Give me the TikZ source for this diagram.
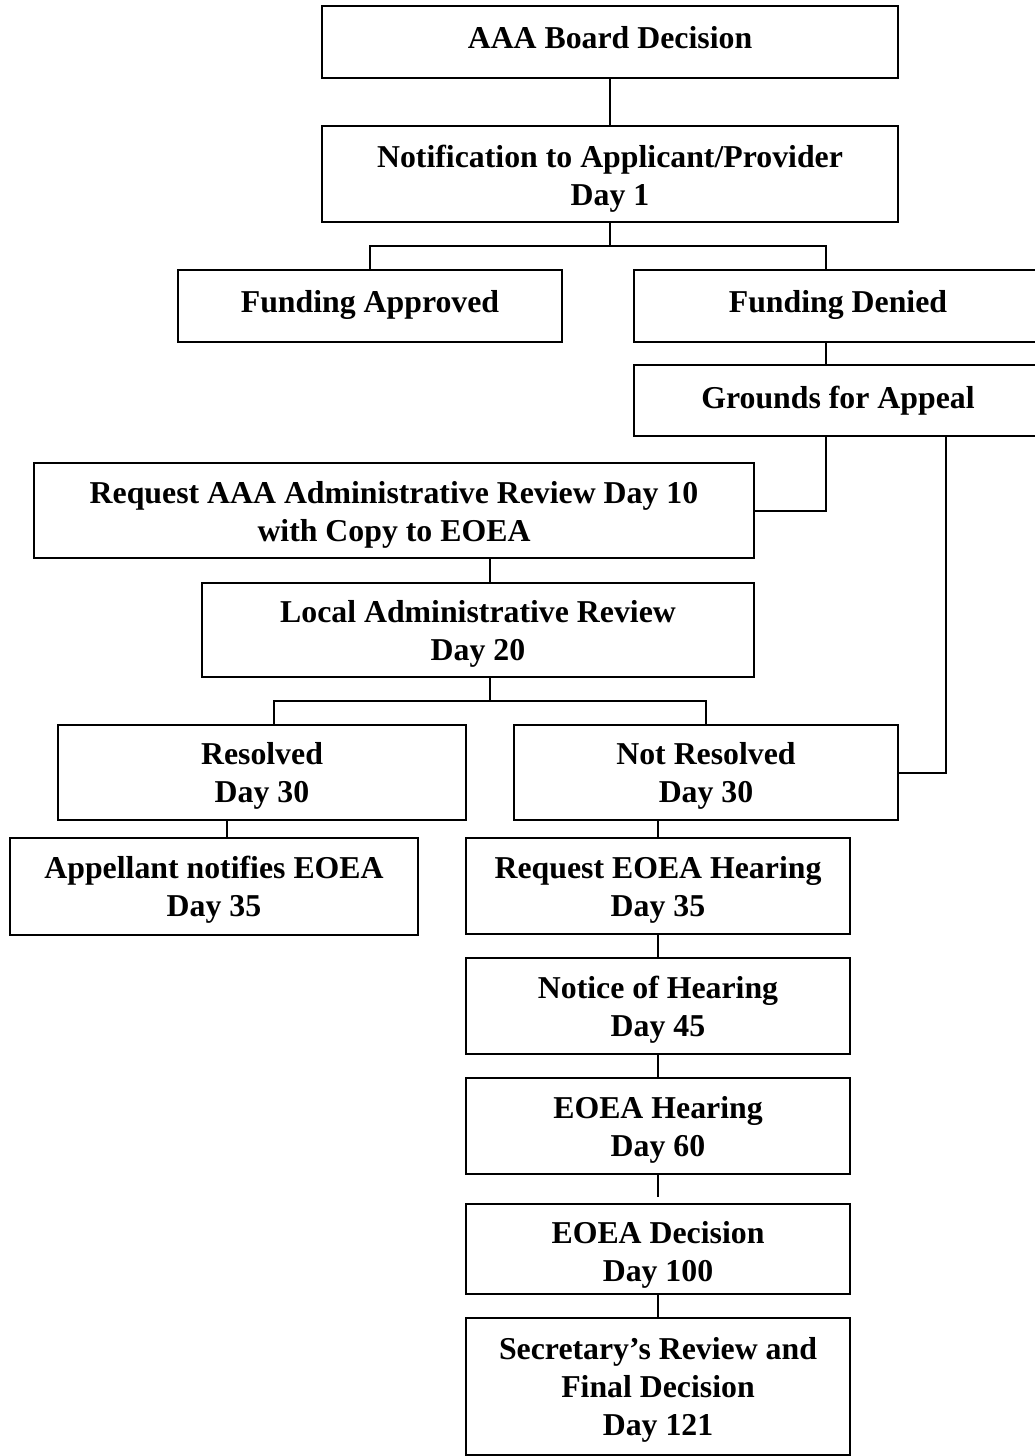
\documentclass[tikz,border=0pt]{standalone}
\usepackage{fontspec}
\setmainfont{Liberation Serif}
\newcommand\lowerby[1]{\rule{0pt}{#1}}
\newcommand\raiseby[1]{\rule[-#1]{0pt}{1pt}}
\begin{document}
\begin{tikzpicture}[x=1pt,y=-1pt,
  box/.style={draw, line width=2pt, inner sep=0pt, align=center,
    font=\fontsize{31.8}{38}\selectfont\bfseries},
  conn/.style={line width=2pt}]
\useasboundingbox (0,0) rectangle (1035,1456);
\node[box, minimum width=576pt, minimum height=72pt] (a) at (610,42) {AAA Board Decision\raiseby{10pt}};
\node[box, minimum width=576pt, minimum height=96pt] (b) at (610,174) {\lowerby{31pt}Notification to Applicant/Provider\\Day 1};
\node[box, minimum width=384pt, minimum height=72pt] (c) at (370,306) {Funding Approved\raiseby{10pt}};
\node[box, minimum width=408pt, minimum height=72pt] (d) at (838,306) {Funding Denied\raiseby{10pt}};
\node[box, minimum width=408pt, minimum height=71pt] (e) at (838,400.5) {Grounds for Appeal};
\node[box, minimum width=720pt, minimum height=95pt] (f) at (394,510.5) {\lowerby{30pt}Request AAA Administrative Review Day 10\\with Copy to EOEA};
\node[box, minimum width=552pt, minimum height=94pt] (g) at (478,630) {\lowerby{29pt}Local Administrative Review\\Day 20};
\node[box, minimum width=408pt, minimum height=95pt] (h) at (262,772.5) {\lowerby{29pt}Resolved\\Day 30};
\node[box, minimum width=384pt, minimum height=95pt] (i) at (706,772.5) {\lowerby{29pt}Not Resolved\\Day 30};
\node[box, minimum width=408pt, minimum height=97pt] (j) at (214,886.5) {\lowerby{29pt}Appellant notifies EOEA\\Day 35};
\node[box, minimum width=384pt, minimum height=96pt] (k) at (658,886) {\lowerby{30pt}Request EOEA Hearing\\Day 35};
\node[box, minimum width=384pt, minimum height=96pt] (l) at (658,1006) {\lowerby{30pt}Notice of Hearing\\Day 45};
\node[box, minimum width=384pt, minimum height=96pt] (m) at (658,1126) {\lowerby{30pt}EOEA Hearing\\Day 60};
\node[box, minimum width=384pt, minimum height=90pt] (n) at (658,1249) {\lowerby{34pt}EOEA Decision\\Day 100};
\node[box, minimum width=384pt, minimum height=137pt] (o) at (658,1386.5) {\lowerby{29pt}Secretary’s Review and\\Final Decision\\Day 121};

\coordinate (j1) at (610,246);
\coordinate (j2) at (490,701);
\draw[conn] (a) -- (b);
\draw[conn] (b.south) -- (j1);
\draw[conn] (c.north) |- (j1) -| ([xshift=-12pt]d.north);
\draw[conn] ([xshift=-12pt]d.south) -- ([xshift=-12pt]e.north);
\draw[conn] ([xshift=-12pt]e.south) |- (f.east);
\draw[conn] ([xshift=108pt]e.south) |- (i.east);
\draw[conn] ([xshift=12pt]g.north) -- ([xshift=12pt]g.north |- f.south);
\draw[conn] ([xshift=12pt]g.south) -- (j2);
\draw[conn] ([xshift=12pt]h.north) |- (j2) -| (i.north);
\draw[conn] ([xshift=13pt]j.north) -- ([xshift=13pt]j.north |- h.south);
\draw[conn] (k.north) -- (k.north |- i.south);
\draw[conn] (k) -- (l);
\draw[conn] (l) -- (m);
\draw[conn] (m.south) -- ([yshift=6pt]n.north);
\draw[conn] (n) -- (o);
\end{tikzpicture}
\end{document}
